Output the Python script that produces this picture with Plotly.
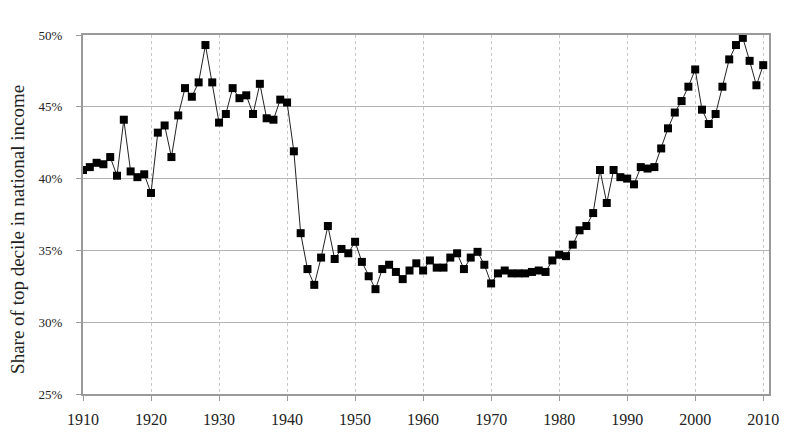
import plotly.graph_objects as go

years = list(range(1910, 2011))
share = [
    40.6, 40.8, 41.1, 41.0, 41.5, 40.2, 44.1, 40.5, 40.1, 40.3,
    39.0, 43.2, 43.7, 41.5, 44.4, 46.3, 45.7, 46.7, 49.3, 46.7,
    43.9, 44.5, 46.3, 45.6, 45.8, 44.5, 46.6, 44.2, 44.1, 45.5,
    45.3, 41.9, 36.2, 33.7, 32.6, 34.5, 36.7, 34.4, 35.1, 34.8,
    35.6, 34.2, 33.2, 32.3, 33.7, 34.0, 33.5, 33.0, 33.6, 34.1,
    33.6, 34.3, 33.8, 33.8, 34.5, 34.8, 33.7, 34.5, 34.9, 34.0,
    32.7, 33.4, 33.6, 33.4, 33.4, 33.4, 33.5, 33.6, 33.5, 34.3,
    34.7, 34.6, 35.4, 36.4, 36.7, 37.6, 40.6, 38.3, 40.6, 40.1,
    40.0, 39.6, 40.8, 40.7, 40.8, 42.1, 43.5, 44.6, 45.4, 46.4,
    47.6, 44.8, 43.8, 44.5, 46.4, 48.3, 49.3, 49.8, 48.2, 46.5,
    47.9,
]
y_tickvals = [0.25, 0.30, 0.35, 0.40, 0.45, 0.50]
y_ticktext = ["25%", "30%", "35%", "40%", "45%", "50%"]
x_tickvals = list(range(1910, 2011, 10))
y_title = "Share of top decile in national income"

serif = "Liberation Serif, DejaVu Serif, serif"

fig = go.Figure()
fig.add_trace(go.Scatter(
    x=years, y=[s / 100 for s in share], mode="lines+markers",
    line=dict(color="#222222", width=1),
    marker=dict(symbol="square", size=8, color="#000000"),
    showlegend=False,
))

# the page body has an 8px margin, so the figure is sized to fit inside it
fig.update_layout(
    width=775, height=422,
    margin=dict(l=75, r=14, t=27, b=36),
    paper_bgcolor="white", plot_bgcolor="white",
    font=dict(family=serif, color="#222222", size=13),
    xaxis=dict(
        range=[1910, 2010.85], tickvals=x_tickvals,
        showgrid=True, gridcolor="#c8c8c8", griddash="dot", gridwidth=1,
        showline=True, linecolor="#9a9a9a", linewidth=2, mirror=True,
        ticks="outside", ticklen=5, tickcolor="#9a9a9a",
        tickfont=dict(family=serif, size=16), zeroline=False,
        ticklabelstandoff=5, automargin=False,
    ),
    yaxis=dict(
        range=[0.25, 0.50], tickvals=y_tickvals, ticktext=y_ticktext,
        showgrid=True, gridcolor="#b4b4b4", gridwidth=1,
        showline=True, linecolor="#9a9a9a", linewidth=2, mirror=True,
        ticks="outside", ticklen=5, tickcolor="#9a9a9a",
        tickfont=dict(family=serif, size=13), zeroline=False,
        ticklabelstandoff=11, automargin=False,
    ),
    annotations=[dict(
        text=y_title, textangle=-90, showarrow=False,
        xref="paper", yref="paper", x=0, y=0.457,
        xanchor="center", yanchor="middle", xshift=-65,
        font=dict(family=serif, size=19, color="#222222"),
    )],
)

fig.write_html("out.html")
